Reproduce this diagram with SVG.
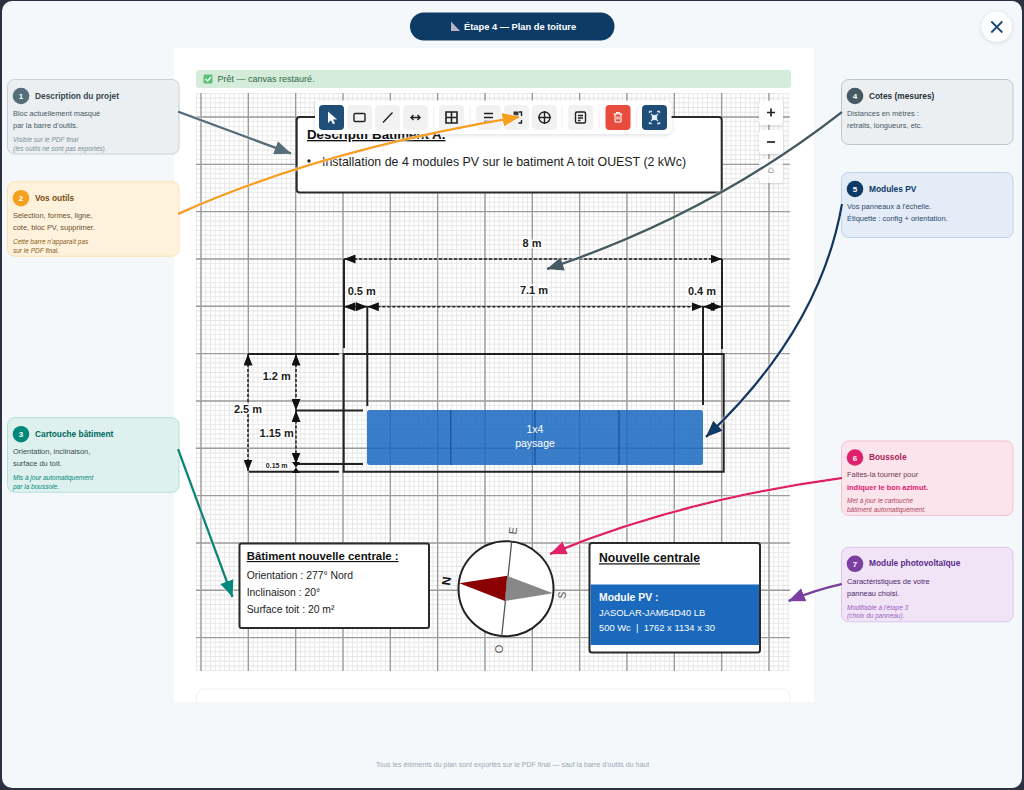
<svg xmlns="http://www.w3.org/2000/svg" width="1024" height="790" viewBox="0 0 1024 790">
<style>
text{font-family:"Liberation Sans",Arial,sans-serif}
.t{font-size:8.350px;font-weight:700}
.b{font-size:7.450px}
.i{font-size:6.500px;font-style:italic}
.n{font-size:8px;font-weight:700;fill:#fff;text-anchor:middle}
.ln{stroke:#222;stroke-width:2;fill:none}
.dash{stroke:#222;stroke-width:1.500;stroke-dasharray:3 2;fill:none;marker-start:url(#ah);marker-end:url(#ah)}
.sol{stroke:#222;stroke-width:1.500;fill:none;marker-start:url(#ah);marker-end:url(#ah)}
.dim{font-size:11px;font-weight:700;fill:#222;text-anchor:middle;paint-order:stroke;stroke:#fff;stroke-width:3px;stroke-linejoin:round}
.btn{fill:#f2f2f2}
.ic{fill:none;stroke:#222;stroke-width:1.400}
.box{fill:#fff;stroke:#2a2a2a;stroke-width:2}
.ctl{fill:#fff;filter:url(#sh)}
.cx{fill:none;stroke-width:2.500;filter:url(#halo)}
.cl{font-size:11px;fill:#555;text-anchor:middle}
.gv{fill:none;stroke-width:578}
.gh{fill:none;stroke-width:594}
</style>
<defs>
<marker id="ah" markerUnits="userSpaceOnUse" markerWidth="11.500" markerHeight="9" refX="11.500" refY="4.500" orient="auto-start-reverse"><path d="M0 0L11.500 4.500L0 9z" fill="#111"/></marker>
<marker id="a1" markerUnits="userSpaceOnUse" markerWidth="17" markerHeight="14" refX="16.500" refY="7" orient="auto"><path d="M0 0L17 7L0 14z" fill="#546e7a"/></marker>
<marker id="a2" markerUnits="userSpaceOnUse" markerWidth="17" markerHeight="14" refX="16.500" refY="7" orient="auto"><path d="M0 0L17 7L0 14z" fill="#f5a11f"/></marker>
<marker id="a3" markerUnits="userSpaceOnUse" markerWidth="17" markerHeight="14" refX="16.500" refY="7" orient="auto"><path d="M0 0L17 7L0 14z" fill="#00897b"/></marker>
<marker id="a4" markerUnits="userSpaceOnUse" markerWidth="17" markerHeight="14" refX="16.500" refY="7" orient="auto"><path d="M0 0L17 7L0 14z" fill="#455a64"/></marker>
<marker id="a5" markerUnits="userSpaceOnUse" markerWidth="17" markerHeight="14" refX="16.500" refY="7" orient="auto"><path d="M0 0L17 7L0 14z" fill="#0d3b66"/></marker>
<marker id="a6" markerUnits="userSpaceOnUse" markerWidth="17" markerHeight="14" refX="16.500" refY="7" orient="auto"><path d="M0 0L17 7L0 14z" fill="#e0206c"/></marker>
<marker id="a7" markerUnits="userSpaceOnUse" markerWidth="17" markerHeight="14" refX="16.500" refY="7" orient="auto"><path d="M0 0L17 7L0 14z" fill="#7b3fa0"/></marker>
<filter id="sh" x="-20%" y="-30%" width="140%" height="170%"><feDropShadow dx="0" dy="1" stdDeviation="2" flood-color="#000" flood-opacity=".14"/></filter>
<filter id="halo" x="-10%" y="-10%" width="120%" height="120%"><feDropShadow dx="0" dy="0" stdDeviation=".8" flood-color="#fff" flood-opacity=".9"/></filter>
</defs>

<rect width="1024" height="790" fill="#2b3140"/>
<rect x="2" y="1" width="1020" height="787" rx="10" fill="#f4f8fb"/>

<g id="sheet">
<rect x="174" y="48" width="640" height="654" fill="#fff"/>
<g id="grid">
<path class="gv" d="M196 382H790" stroke="#e6e6e6" stroke-dasharray=".9 3.833" stroke-dashoffset="-4.550"/>
<path class="gh" d="M493 93V671" stroke="#e6e6e6" stroke-dasharray=".9 3.833" stroke-dashoffset="-4.550"/>
<path class="gv" d="M196 382H790" stroke="#9c9c9c" stroke-dasharray="1.400 45.930" stroke-dashoffset="-4.300"/>
<path class="gh" d="M493 93V671" stroke="#9c9c9c" stroke-dasharray="1.400 45.930" stroke-dashoffset="-23.300"/>
</g>
<path d="M196.500 702V697a8 8 0 0 1 8-8H782a8 8 0 0 1 8 8V702" fill="#fff" stroke="#f1f1f1"/>
</g>

<g id="status">
<rect x="196" y="70" width="595" height="18" rx="3" fill="#d4ecd9"/>
<rect x="203.500" y="74.500" width="9" height="9" rx="1.500" fill="#5cc07a"/>
<path d="M205.500 79l2 2 3.500-4" fill="none" stroke="#fff" stroke-width="1.200"/>
<text x="217.500" y="82" font-size="9" fill="#2f6b3f">Prêt — canvas restauré.</text>
</g>

<g id="title-pill">
<rect x="410" y="12.500" width="204.500" height="28" rx="14" fill="#0d3b66"/>
<path d="M451 31V21.500L460 31z" fill="#b9b4c4"/>
<text x="464" y="30" font-size="9.300" font-weight="700" fill="#fff">Étape 4 — Plan de toiture</text>
</g>

<g id="close">
<circle cx="996.700" cy="26.800" r="15" fill="#fff" filter="url(#sh)"/>
<path d="M991.300 21.500l11 11M1002.300 21.500l-11 11" stroke="#1a4a78" stroke-width="1.800" fill="none"/>
</g>

<g id="description-box">
<rect class="box" x="296.700" y="117" width="425" height="75.500" rx="3"/>
<text x="307" y="139" font-size="13.300" font-weight="700" text-decoration="underline" fill="#111">Descriptif Batiment A.</text>
<circle cx="309" cy="161" r="1.700" fill="#222"/>
<text x="322" y="165.500" font-size="12.400" fill="#222">Installation de 4 modules PV sur le batiment A toit OUEST (2 kWc)</text>
</g>

<g id="roof">
<path class="ln" d="M343.700 354H723.700V471.700H343.700z"/>
<path class="ln" d="M344 259V348M722 259V349M367.300 307V406M703 307V405M248 354H339M249 471.700H339M296 410.500H363M296 464H363"/>
</g>

<g id="pv-modules">
<rect x="367" y="410" width="336" height="55" rx="2.500" fill="#1565c0" fill-opacity=".84"/>
<path d="M450.700 410V465M535 410V465M619 410V465" stroke="#1a5596" stroke-width="1.300"/>
<text x="535" y="433" font-size="10.500" fill="#fff" text-anchor="middle">1x4</text>
<text x="535" y="446.700" font-size="10.500" fill="#fff" text-anchor="middle">paysage</text>
</g>

<g id="dimensions">
<path class="dash" d="M344 259H722"/>
<path class="dash" d="M367.300 306.700H703"/>
<path class="sol" d="M344 306.700H367.300"/>
<path class="sol" d="M703 306.700H722"/>
<path class="dash" d="M248 354V471"/>
<path class="dash" d="M296 354V410.500"/>
<path class="dash" d="M296 410.500V464"/>
<path d="M292 462L300 462L296 467.500L300 473L292 473L296 467.500z" fill="#111"/>
<text class="dim" x="532" y="246.700">8 m</text>
<text class="dim" x="534" y="294">7.1 m</text>
<text class="dim" x="361.700" y="295">0.5 m</text>
<text class="dim" x="702" y="295">0.4 m</text>
<text class="dim" x="276.700" y="380">1.2 m</text>
<text class="dim" x="248" y="413">2.5 m</text>
<text class="dim" x="276.700" y="436.700">1.15 m</text>
<text class="dim" x="276.700" y="468" style="font-size:7px">0.15 m</text>
</g>

<g id="cartouche">
<rect class="box" x="239.500" y="543.500" width="189.500" height="84.500" rx="2"/>
<text x="246.700" y="560" font-size="11.400" font-weight="700" text-decoration="underline" fill="#111">Bâtiment nouvelle centrale :</text>
<text x="246.700" y="578.500" font-size="10.400" fill="#222">Orientation : 277° Nord</text>
<text x="246.700" y="595.700" font-size="10.400" fill="#222">Inclinaison : 20°</text>
<text x="246.700" y="612.700" font-size="10.400" fill="#222">Surface toit : 20 m²</text>
</g>

<g id="compass">
<circle cx="506" cy="588.700" r="47.500" fill="#fff" stroke="#222" stroke-width="2"/>
<path d="M511.700 541.500L501.700 636" stroke="#555" stroke-width="1.300"/>
<path d="M459.300 583.300L507.300 575.700L505 601z" fill="#8b0000"/>
<path d="M507.300 576L553 593.300L505 601z" fill="#888"/>
<text class="cl" transform="translate(512.700 530.500) rotate(-83)" y="4">E</text>
<text class="cl" transform="translate(561.700 595) rotate(-83)" y="4">S</text>
<text class="cl" transform="translate(498.700 649) rotate(-83)" y="4">O</text>
<text class="cl" transform="translate(446 581) rotate(-83)" y="4.500" style="fill:#111;font-weight:700;font-size:12px">N</text>
</g>

<g id="module-card">
<rect class="box" x="589.500" y="543" width="170.500" height="109.500" rx="2.500"/>
<rect x="590.500" y="584.500" width="168.500" height="60.500" fill="#1a69bd"/>
<text x="599" y="562.300" font-size="12.200" font-weight="700" text-decoration="underline" fill="#111">Nouvelle centrale</text>
<text x="599" y="601" font-size="10.400" font-weight="700" fill="#fff">Module PV :</text>
<text x="599" y="615.700" font-size="9.400" fill="#fff">JASOLAR-JAM54D40 LB</text>
<text x="599" y="630.700" font-size="9.400" fill="#fff" xml:space="preserve">500 Wc  |  1762 x 1134 x 30</text>
</g>

<g id="toolbar">
<rect class="ctl" x="315" y="100.500" width="356.500" height="33.500" rx="5"/>
<rect x="319" y="105" width="25" height="25" rx="4" fill="#1f4e79"/>
<path d="M328 111.500V123l3-2.800 2 4 2-1-2-3.800h4z" fill="#fff"/>
<rect class="btn" x="347" y="105" width="25" height="25" rx="4"/>
<rect class="ic" x="354" y="113.500" width="11" height="8" rx="1"/>
<rect class="btn" x="375" y="105" width="25" height="25" rx="4"/>
<path class="ic" d="M383 122.500L392.500 112.500"/>
<rect class="btn" x="403" y="105" width="25" height="25" rx="4"/>
<path class="ic" d="M411 117.500H420M413.500 115l-2.500 2.500 2.500 2.500M417.500 115l2.500 2.500-2.500 2.500"/>
<rect class="btn" x="439" y="105" width="25" height="25" rx="4"/>
<path d="M446 112h11v11h-11zM451.500 112v11M446 117.500h11" fill="none" stroke="#222" stroke-width="1.600"/>
<rect class="btn" x="476" y="105" width="25" height="25" rx="4"/>
<path class="ic" d="M484 113.500h9M484 117.500h9M484 121.500h9"/>
<rect class="btn" x="504" y="105" width="25" height="25" rx="4"/>
<path class="ic" d="M519 112h2.500v4M521.500 120v3h-3"/>
<rect x="513.500" y="111.500" width="5" height="4" fill="#333"/>
<rect class="btn" x="532" y="105" width="25" height="25" rx="4"/>
<circle class="ic" cx="544.500" cy="117.500" r="5.500"/>
<path class="ic" d="M544.500 111v13M538 117.500h13"/>
<rect class="btn" x="568" y="105" width="25" height="25" rx="4"/>
<rect class="ic" x="575.500" y="112" width="10" height="11" rx="1.500"/>
<path class="ic" d="M578 115.500h5M578 118h5M578 120.500h2.500"/>
<rect x="605.500" y="105" width="25" height="25" rx="4" fill="#e74c3c"/>
<path d="M613.500 114h9M615 114v7a1 1 0 0 0 1 1h4a1 1 0 0 0 1-1v-7M616.500 114v-1.500h3v1.500M617 116.500v3M619 116.500v3" fill="none" stroke="#fff" stroke-width="1.100"/>
<rect x="642" y="105" width="25" height="25" rx="4" fill="#1f4e79"/>
<path d="M649.500 113v-1.500h2.500M659.500 113v-1.500h-2.500M649.500 122v1.500h2.500M659.500 122v1.500h-2.500" fill="none" stroke="#cfe0f0" stroke-width="1.300"/>
<circle cx="654.500" cy="117.500" r="2.700" fill="#e6eef6"/>
<path d="M651 114l7 7M658 114l-7 7" stroke="#e6eef6" stroke-width="1.100"/>
<path d="M433.700 107V128M470 107V128M562 107V128M599 107V128M636.700 107V128" stroke="#ececec"/>
</g>

<g id="zoom-controls">
<rect class="ctl" x="759" y="100.700" width="24" height="24" rx="4"/>
<path d="M771 108.500v8M767 112.500h8" stroke="#222" stroke-width="1.700"/>
<rect class="ctl" x="759" y="130" width="24" height="24" rx="4"/>
<path d="M767 142h8" stroke="#222" stroke-width="1.700"/>
<rect class="ctl" x="759" y="159" width="24" height="24" rx="4" opacity=".85"/>
<path d="M768.800 172.500v-3l2.200-1.800 2.200 1.800v3z" fill="none" stroke="#999" stroke-width=".8"/>
</g>

<g id="callout-1" transform="translate(7.500 79.500)">
<rect width="171.500" height="74.500" rx="7" fill="#eceff1" stroke="#c6d0d6"/>
<circle cx="13.500" cy="16.500" r="8.300" fill="#546e7a"/><text class="n" x="13.500" y="19.500">1</text>
<text class="t" x="27.500" y="19" fill="#37474f">Description du projet</text>
<text class="b" x="5.500" y="36.300" fill="#455a64">Bloc actuellement masqué</text>
<text class="b" x="5.500" y="48.600" fill="#455a64">par la barre d'outils.</text>
<text class="i" x="5.500" y="62.300" fill="#78909c">Visible sur le PDF final</text>
<text class="i" x="5.500" y="71" fill="#78909c">(les outils ne sont pas exportés).</text>
</g>
<g id="callout-2" transform="translate(7.500 181.700)">
<rect width="171.500" height="74.500" rx="7" fill="#fff2dc" stroke="#fde0ad"/>
<circle cx="13.500" cy="16.500" r="8.300" fill="#f5a11f"/><text class="n" x="13.500" y="19.500">2</text>
<text class="t" x="27.500" y="19" fill="#7a4d10">Vos outils</text>
<text class="b" x="5.500" y="36.300" fill="#6b5030">Sélection, formes, ligne,</text>
<text class="b" x="5.500" y="48.600" fill="#6b5030">cote, bloc PV, supprimer.</text>
<text class="i" x="5.500" y="62.300" fill="#8d5a14">Cette barre n'apparaît pas</text>
<text class="i" x="5.500" y="71" fill="#8d5a14">sur le PDF final.</text>
</g>
<g id="callout-3" transform="translate(7.500 417.700)">
<rect width="171.500" height="74.500" rx="7" fill="#def1ef" stroke="#b4e0da"/>
<circle cx="13.500" cy="16.500" r="8.300" fill="#00897b"/><text class="n" x="13.500" y="19.500">3</text>
<text class="t" x="27.500" y="19" fill="#00695c">Cartouche bâtiment</text>
<text class="b" x="5.500" y="36.300" fill="#37504d">Orientation, inclinaison,</text>
<text class="b" x="5.500" y="48.600" fill="#37504d">surface du toit.</text>
<text class="i" x="5.500" y="62.300" fill="#00897b">Mis à jour automatiquement</text>
<text class="i" x="5.500" y="71" fill="#00897b">par la boussole.</text>
</g>
<g id="callout-4" transform="translate(841.500 79.500)">
<rect width="171.500" height="65" rx="7" fill="#eceff1" stroke="#bcc8ce"/>
<circle cx="13.500" cy="16.500" r="8.300" fill="#455a64"/><text class="n" x="13.500" y="19.500">4</text>
<text class="t" x="27.500" y="19" fill="#263238">Cotes (mesures)</text>
<text class="b" x="5.500" y="36.300" fill="#455a64">Distances en mètres :</text>
<text class="b" x="5.500" y="48.600" fill="#455a64">retraits, longueurs, etc.</text>
</g>
<g id="callout-5" transform="translate(841.500 172.500)">
<rect width="171.500" height="65" rx="7" fill="#e3ecf7" stroke="#bfd3ec"/>
<circle cx="13.500" cy="16.500" r="8.300" fill="#0d3b66"/><text class="n" x="13.500" y="19.500">5</text>
<text class="t" x="27.500" y="19" fill="#0d3b66">Modules PV</text>
<text class="b" x="5.500" y="36.300" fill="#2c4a6e">Vos panneaux à l'échelle.</text>
<text class="b" x="5.500" y="48.600" fill="#2c4a6e">Étiquette : config + orientation.</text>
</g>
<g id="callout-6" transform="translate(841.500 441)">
<rect width="171.500" height="74.500" rx="7" fill="#fce4ec" stroke="#f8bfd2"/>
<circle cx="13.500" cy="16.500" r="8.300" fill="#e0206c"/><text class="n" x="13.500" y="19.500">6</text>
<text class="t" x="27.500" y="19" fill="#a81e56">Boussole</text>
<text class="b" x="5.500" y="36.300" fill="#6b3a4d">Faites-la tourner pour</text>
<text class="b" x="5.500" y="48.600" fill="#e0206c" font-weight="700">indiquer le bon azimut.</text>
<text class="i" x="5.500" y="62.300" fill="#b0455f">Met à jour le cartouche</text>
<text class="i" x="5.500" y="71" fill="#b0455f">bâtiment automatiquement.</text>
</g>
<g id="callout-7" transform="translate(841.500 547.300)">
<rect width="171.500" height="74.500" rx="7" fill="#f1e4f7" stroke="#dcc4ee"/>
<circle cx="13.500" cy="16.500" r="8.300" fill="#7b3fa0"/><text class="n" x="13.500" y="19.500">7</text>
<text class="t" x="27.500" y="19" fill="#5b2c8a">Module photovoltaïque</text>
<text class="b" x="5.500" y="36.300" fill="#4a2a6b">Caractéristiques de votre</text>
<text class="b" x="5.500" y="48.600" fill="#4a2a6b">panneau choisi.</text>
<text class="i" x="5.500" y="62.300" fill="#9c5fc4">Modifiable à l'étape 3</text>
<text class="i" x="5.500" y="71" fill="#9c5fc4">(choix du panneau).</text>
</g>

<g id="connectors">
<path class="cx" stroke="#546e7a" d="M178 111.700L291 153.500" marker-end="url(#a1)"/>
<path class="cx" stroke="#f5a11f" d="M178 214Q320 150 519 117" marker-end="url(#a2)"/>
<path class="cx" stroke="#00897b" d="M178 449L232.500 597" marker-end="url(#a3)"/>
<path class="cx" stroke="#455a64" d="M842 112Q710 215 547 269" marker-end="url(#a4)"/>
<path class="cx" stroke="#0d3b66" d="M842 204Q820 330 706 437" marker-end="url(#a5)"/>
<path class="cx" stroke="#e0206c" d="M842 478Q680 500 550 554" marker-end="url(#a6)"/>
<path class="cx" stroke="#7b3fa0" d="M842 584Q815 590 788.500 601" marker-end="url(#a7)"/>
</g>

<text x="512.500" y="767" font-size="7" fill="#9aa8b8" text-anchor="middle">Tous les éléments du plan sont exportés sur le PDF final — sauf la barre d'outils du haut</text>
</svg>
